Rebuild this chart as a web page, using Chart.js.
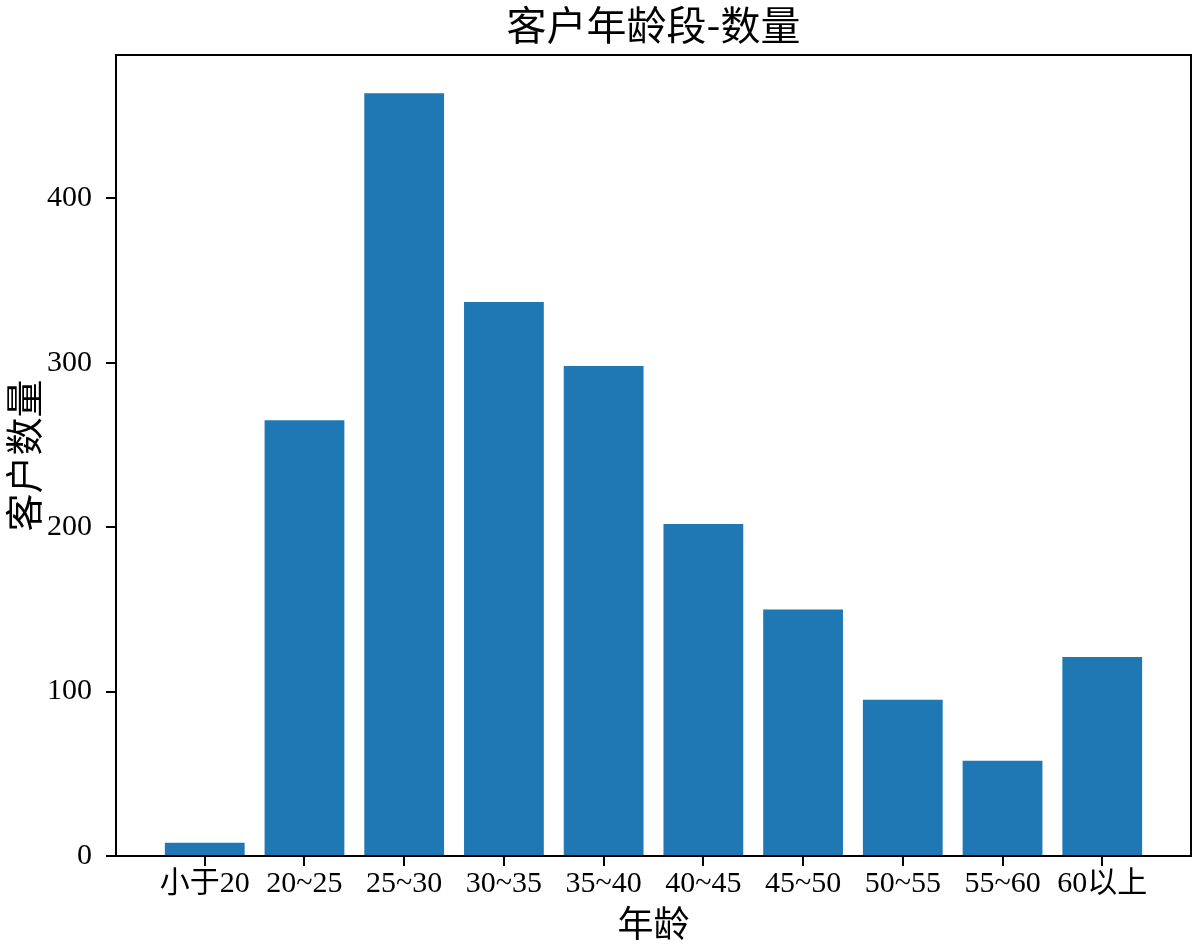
<!DOCTYPE html>
<html>
<head>
<meta charset="utf-8">
<script src="https://cdn.jsdelivr.net/npm/chart.js@4"></script>
<style>
  html, body { margin: 0; padding: 0; background: #fff; }
  #wrap { width: 1195px; height: 945px; }
</style>
</head>
<body>
<div id="wrap"><canvas id="ageChart" width="1195" height="945"></canvas></div>
<script>
// age groups and customer counts
const ageGroups = ["小于20", "20~25", "25~30", "30~35", "35~40", "40~45", "45~50", "50~55", "55~60", "60以上"];
const customerCounts = [8, 265, 464, 337, 298, 202, 150, 95, 58, 121];
const yTicks = [0, 100, 200, 300, 400];

const titleText = "客户年龄段-数量";
const xTitle = "年龄";
const yTitle = "客户数量";

const serif = '"Liberation Serif", "Noto Sans CJK SC", serif';
const cjk = '"Noto Sans CJK SC", "Liberation Serif", serif';

// frame around the plot area (matplotlib style box)
const frame = {
  id: "frame",
  afterDatasetsDraw(chart) {
    const a = chart.chartArea;
    const ctx = chart.ctx;
    ctx.save();
    ctx.strokeStyle = "#000";
    ctx.lineWidth = 2;
    ctx.strokeRect(a.left, a.top, a.right - a.left, a.bottom - a.top);
    ctx.restore();
  }
};

const points = customerCounts.map((v, i) => ({ x: i, y: v }));
const ymax = Math.max(...customerCounts) * 1.05;

new Chart(document.getElementById("ageChart").getContext("2d"), {
  type: "bar",
  data: {
    datasets: [{
      data: points,
      backgroundColor: "#1f77b4",
      borderWidth: 0,
      barPercentage: 0.8,
      categoryPercentage: 1.0
    }]
  },
  options: {
    responsive: false,
    animation: false,
    layout: { padding: { left: 0, right: 4, top: 0, bottom: 0 } },
    plugins: {
      legend: { display: false },
      tooltip: { enabled: false },
      title: {
        display: true,
        fullSize: false,
        text: titleText,
        color: "#000",
        font: { family: cjk, size: 40, weight: "normal" },
        padding: { top: 1, bottom: 6 }
      }
    },
    scales: {
      x: {
        type: "linear",
        offset: false,
        min: -0.89,
        max: ageGroups.length - 1 + 0.89,
        afterBuildTicks(scale) {
          scale.ticks = ageGroups.map((g, i) => ({ value: i }));
        },
        afterFit(scale) { scale.height = 89; },
        ticks: {
          color: "#000",
          font: { family: serif, size: 30 },
          padding: 0,
          maxRotation: 0,
          autoSkip: false,
          callback: (v) => ageGroups[v]
        },
        grid: { offset: false, drawOnChartArea: false, color: "#000", tickLength: 10, lineWidth: 2 },
        border: { color: "#000", width: 2 },
        title: {
          display: true,
          text: xTitle,
          color: "#000",
          font: { family: cjk, size: 36 },
          padding: { top: 0, bottom: 0 }
        }
      },
      y: {
        min: 0,
        max: ymax,
        afterBuildTicks(scale) {
          scale.ticks = yTicks.map(v => ({ value: v }));
        },
        afterFit(scale) { scale.width = 116; },
        ticks: {
          color: "#000",
          font: { family: serif, size: 30 },
          padding: 14
        },
        grid: { drawOnChartArea: false, color: "#000", tickLength: 10, lineWidth: 2 },
        border: { color: "#000", width: 2 },
        title: {
          display: true,
          text: yTitle,
          color: "#000",
          font: { family: cjk, size: 38 },
          padding: { top: 1, bottom: 0 }
        }
      }
    }
  },
  plugins: [frame]
});
</script>
</body>
</html>
